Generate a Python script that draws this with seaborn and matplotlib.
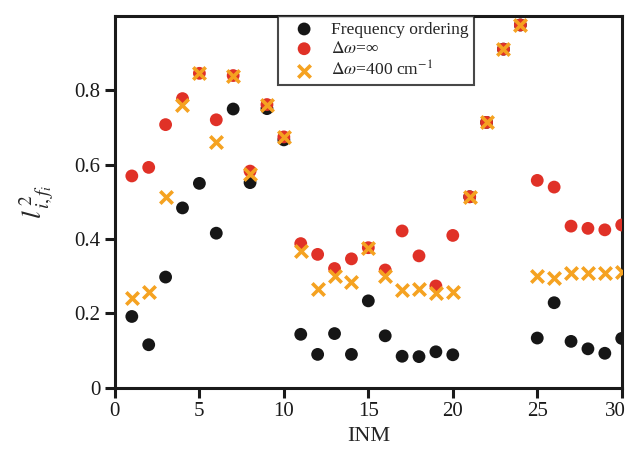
import matplotlib
matplotlib.use("Agg")
import matplotlib.pyplot as plt
import matplotlib.transforms as mtransforms
import pandas as pd
import seaborn as sns

inm = list(range(1, 31))
freq_ordering = [0.192, 0.116, 0.298, 0.484, 0.550, 0.416, 0.750, 0.552, 0.751, 0.667,
                 0.144, 0.090, 0.146, 0.090, 0.234, 0.140, 0.085, 0.084, 0.097, 0.089,
                 0.514, 0.714, 0.911, 0.976, 0.134, 0.229, 0.125, 0.105, 0.093, 0.133]
dw_inf = [0.570, 0.593, 0.708, 0.778, 0.846, 0.721, 0.840, 0.583, 0.762, 0.675,
          0.388, 0.359, 0.321, 0.347, 0.377, 0.317, 0.422, 0.355, 0.274, 0.410,
          0.514, 0.714, 0.911, 0.976, 0.558, 0.540, 0.435, 0.429, 0.425, 0.438]
dw_400 = [0.242, 0.257, 0.514, 0.760, 0.846, 0.660, 0.840, 0.576, 0.762, 0.675,
          0.368, 0.267, 0.302, 0.284, 0.377, 0.302, 0.263, 0.265, 0.254, 0.257,
          0.514, 0.714, 0.911, 0.976, 0.302, 0.296, 0.308, 0.308, 0.308, 0.312]

df = pd.DataFrame({"INM": inm, "freq": freq_ordering, "inf": dw_inf, "w400": dw_400})

sns.set_style("white")
plt.rcParams["font.family"] = ["Liberation Serif", "DejaVu Serif"]
plt.rcParams["mathtext.fontset"] = "stix"

fig = plt.figure(figsize=(6.28, 4.59), dpi=100)
ax = fig.add_axes([0.183, 0.155, 0.807, 0.810])

sns.scatterplot(data=df, x="INM", y="freq", ax=ax, color="#161616", s=85,
                edgecolor="none", label="Frequency ordering", zorder=3)
sns.scatterplot(data=df, x="INM", y="inf", ax=ax, color="#e03127", s=85,
                edgecolor="none", label=r"$\Delta\omega$=∞", zorder=4)
sns.scatterplot(data=df, x="INM", y="w400", ax=ax, color="#f5a221", s=80,
                marker="x", linewidth=2.6, label=r"$\Delta\omega$=400 cm$^{-1}$", zorder=5)

ax.set_xlim(0, 30)
ax.set_ylim(0, 1.0)
ax.set_xticks([0, 5, 10, 15, 20, 25, 30])
ax.set_yticks([0, 0.2, 0.4, 0.6, 0.8])
ax.set_yticklabels(["0", "0.2", "0.4", "0.6", "0.8"])
ax.tick_params(axis="both", direction="out", length=7, width=2.2, labelsize=15,
               left=True, bottom=True, top=False, right=False, colors="#1a1a1a")
for sp in ax.spines.values():
    sp.set_linewidth(2.2)
    sp.set_color("#1a1a1a")

# last x tick label sits a bit to the left, as in the original
last = ax.get_xticklabels()[-1]
last.set_transform(last.get_transform() + mtransforms.ScaledTranslation(-6 / 100, 0, fig.dpi_scale_trans))

ax.set_xlabel("INM", fontsize=16, labelpad=4)
ax.set_ylabel(r"$l^{\,2}_{\,i,f_i}$", fontsize=20, labelpad=14)

leg = ax.legend(loc="upper left", bbox_to_anchor=(0.3215, 1.0), borderaxespad=0,
                fontsize=12.6, frameon=True, fancybox=False, edgecolor="#1a1a1a",
                handlelength=2.4, handletextpad=0.35, borderpad=0.3, labelspacing=0.2)
leg.get_frame().set_linewidth(1.5)

plt.savefig("out.png", dpi=100)
